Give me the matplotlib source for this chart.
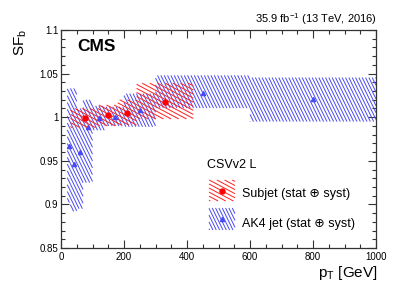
import numpy as np
import matplotlib
matplotlib.use("Agg")
import matplotlib.pyplot as plt
from matplotlib.collections import LineCollection
from matplotlib.ticker import MultipleLocator, FuncFormatter

plt.rcParams['font.family'] = ['Liberation Sans', 'DejaVu Sans']
plt.rcParams['mathtext.fontset'] = 'custom'
plt.rcParams['mathtext.rm'] = 'Liberation Sans'
plt.rcParams['mathtext.it'] = 'Liberation Sans:italic'

# ---- data ----
ak4_edges = [20, 30, 50, 70, 100, 140, 200, 300, 600, 1000]
ak4_sf = [0.967, 0.946, 0.9605, 0.989, 0.9987, 1.0006, 1.008, 1.028, 1.0205]
ak4_lo = [0.902, 0.892, 0.895, 0.925, 0.985, 0.990, 0.989, 1.0105, 0.995]
ak4_hi = [1.033, 1.033, 1.010, 1.020, 1.013, 1.012, 1.027, 1.048, 1.0455]

sub_edges = [30, 120, 180, 240, 420]
sub_sf = [0.9987, 1.0025, 1.005, 1.018]
sub_lo = [0.988, 0.990, 0.991, 0.998]
sub_hi = [1.010, 1.014, 1.020, 1.039]

x_ticks = [0, 200, 400, 600, 800, 1000]
y_ticks = [0.85, 0.9, 0.95, 1.0, 1.05, 1.1]

RED = '#ff2020'
BLUE = '#4a4af2'

W, H = 407, 293
fig = plt.figure(figsize=(W / 100, H / 100), dpi=100)
L, R, T, B = 61, 376, 30, 248
ax = fig.add_axes([L / W, 1 - B / H, (R - L) / W, (B - T) / H])
AW, AH = R - L, B - T
ax.set_xlim(0, 1000)
ax.set_ylim(0.85, 1.1)


def hatch_rect(px0, py0, px1, py1, angle_deg, spacing):
    """Hatch segments (display px, y up) clipped to a rectangle."""
    th = np.deg2rad(angle_deg)
    d = np.array([np.cos(th), np.sin(th)])
    n = np.array([-d[1], d[0]])
    corners = np.array([[px0, py0], [px1, py0], [px0, py1], [px1, py1]])
    proj = corners @ n
    ks = np.arange(np.floor(proj.min() / spacing), np.ceil(proj.max() / spacing) + 1)
    segs = []
    for k in ks:
        c = n * k * spacing
        tmin, tmax = -1e9, 1e9
        ok = True
        for i, (lo, hi) in enumerate([(px0, px1), (py0, py1)]):
            if abs(d[i]) < 1e-12:
                if not (lo <= c[i] <= hi):
                    ok = False
                continue
            t1, t2 = (lo - c[i]) / d[i], (hi - c[i]) / d[i]
            tmin = max(tmin, min(t1, t2))
            tmax = min(tmax, max(t1, t2))
        if ok and tmax > tmin:
            segs.append([c + d * tmin, c + d * tmax])
    return segs


def draw_hatch(segs_px, color):
    inv = ax.transData.inverted()
    segs = [inv.transform(np.array(s)) for s in segs_px]
    lc = LineCollection(segs, colors=color, linewidths=0.7)
    ax.add_collection(lc, autolim=False)


def band(edges, lo, hi, color, angle, spacing):
    segs = []
    for i in range(len(edges) - 1):
        (px0, py0), (px1, py1) = ax.transData.transform([(edges[i], lo[i]), (edges[i + 1], hi[i])])
        segs += hatch_rect(px0, py0, px1, py1, angle, spacing)
    draw_hatch(segs, color)


band(ak4_edges, ak4_lo, ak4_hi, BLUE, -64, 3.0)
band(sub_edges, sub_lo, sub_hi, RED, -28, 3.6)

ak4_c = [(ak4_edges[i] + ak4_edges[i + 1]) / 2 for i in range(len(ak4_sf))]
sub_c = [(sub_edges[i] + sub_edges[i + 1]) / 2 for i in range(len(sub_sf))]
ax.plot(ak4_c, ak4_sf, ls='none', marker='^', ms=3.0, color=BLUE, zorder=5)
ax.plot(sub_c, sub_sf, ls='none', marker='o', ms=3.6, color='red', zorder=6)

ax.set_xticks(x_ticks)
ax.set_yticks(y_ticks)
ax.xaxis.set_minor_locator(MultipleLocator(50))
ax.yaxis.set_minor_locator(MultipleLocator(0.01))
ax.yaxis.set_major_formatter(FuncFormatter(lambda v, p: f"{v:g}"))
ax.tick_params(which='both', direction='in', top=True, right=True, labelsize=7,
               color='#333333', width=0.8)
ax.tick_params(which='major', length=6, pad=3)
ax.tick_params(which='minor', length=3)
ax.tick_params(axis='y', pad=2)
for s in ax.spines.values():
    s.set_color('#333333')
    s.set_linewidth(0.9)

# texts
fig.text(77 / W, 1 - 51 / H, 'CMS', fontsize=12.5, fontweight='bold', va='baseline', ha='left')
fig.text(377 / W, 1 - 23 / H, '35.9 fb$^{-1}$ (13 TeV, 2016)', fontsize=8, ha='right', va='baseline')
fig.text(29 / W, 1 - 29 / H, 'SF$_{\\mathrm{b}}$', fontsize=11, rotation=90, ha='right', va='top')
fig.text(378 / W, 1 - 277 / H, 'p$_{\\mathrm{T}}$ [GeV]', fontsize=11, ha='right', va='baseline')

# legend (manual, figure pixel positions)
fig.text(207 / W, 1 - 168 / H, 'CSVv2 L', fontsize=9, ha='left', va='baseline')


def legend_entry(py_top, py_bot, color, angle, spacing, marker, ms, mcolor, label, py_text):
    x0, x1 = 209, 235
    y0, y1 = H - py_bot, H - py_top
    segs = hatch_rect(x0, y0, x1, y1, angle, spacing)
    draw_hatch(segs, color)
    cx, cy = ax.transData.inverted().transform(((x0 + x1) / 2, (y0 + y1) / 2))
    ax.plot([cx], [cy], marker=marker, ms=ms, color=mcolor, ls='none', zorder=6)
    fig.text(242 / W, 1 - py_text / H, label, fontsize=9, ha='left', va='baseline')


legend_entry(180, 201, RED, -28, 3.6, 'o', 3.6, 'red', 'Subjet (stat \u2295 syst)', 197)
legend_entry(208, 230, BLUE, -64, 3.0, '^', 3.0, BLUE, 'AK4 jet (stat \u2295 syst)', 227)

fig.savefig('out.png', dpi=100)
